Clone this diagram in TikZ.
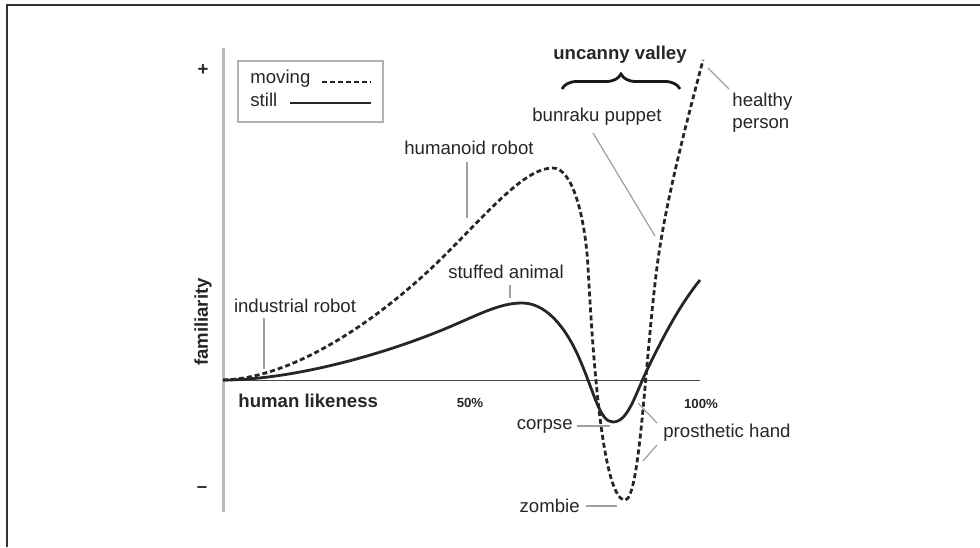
\documentclass[tikz,border=0pt]{standalone}
\usepackage{fontspec}
\setmainfont{Liberation Sans}
\usepackage{tikz}
\usetikzlibrary{decorations.pathreplacing}

\tikzset{
  lbl/.style={font=\fontsize{9.3}{11}\selectfont, inner sep=0pt, text=black!85},
  bold/.style={lbl, font=\fontsize{9.3}{11}\selectfont\bfseries},
  pct/.style={inner sep=0pt, text=black!85, font=\fontsize{6.6}{8}\selectfont\bfseries},
  leader/.style={gray!75, line width=0.6pt},
  still/.style={line width=1.4pt, black!85},
  moving/.style={line width=1.4pt, black!85, dash pattern=on 2.5pt off 1.5pt},
}

\begin{document}
\begin{tikzpicture}[x=0.5pt, y=-0.5pt]
        \useasboundingbox (0,0) rectangle (980,547);

        % frame
        \draw[black!80, line width=1pt] (7,547) -- (7,5) -- (980,5);

        % axes
        \draw[gray!55, line width=1.5pt] (223,48) -- (223,512);
        \draw[black!70, line width=0.5pt] (223,380) -- (700,380);
        \node[bold] (plus) at (203,70) {+};
        \node[bold] (minus) at (202,490) {--};
        \node[bold, rotate=90] (familiarity) at (203,322) {familiarity};
        \node[bold, anchor=west] (likeness) at (238,401) {human likeness};
        \node[pct] (half) at (470,403) {50\%};
        \node[pct] (full) at (701,404) {100\%};

        % legend
        \draw[gray!60, line width=1pt] (238,61) rectangle (383,122);
        \node[lbl, anchor=west] (movinglbl) at (250,79) {moving};
        \node[lbl, anchor=west] (stilllbl) at (250,100) {still};
        \draw[moving] (322,82) -- (371,82);
        \draw[still] (290,103) -- (371,103);

        % still
        \draw[still] (223,380) .. controls (290,380) and (380,356) .. (447,328)
                .. controls (480,314) and (500,303) .. (522,303)
                .. controls (545,303) and (565,325) .. (580,360)
                .. controls (595,395) and (600,422) .. (613,422)
                .. controls (628,422) and (635,395) .. (647,370)
                .. controls (665,333) and (680,305) .. (700,280);

        % moving
        \draw[moving] (223,380) .. controls (300,378) and (390,310) .. (445,255)
                .. controls (490,210) and (525,168) .. (553,168)
                .. controls (572,168) and (585,215) .. (588,267)
                .. controls (591,319) and (600,500) .. (625,500)
                .. controls (640,500) and (645,360) .. (657,267)
                .. controls (666,197) and (690,110) .. (703,60);

        % uncanny valley
        \node[bold] (valley) at (620,55) {uncanny valley};
        \draw[black!90, line width=1.4pt, decorate, decoration={brace, amplitude=7.5pt}] (562,89) -- (680,89);

        % labels
        \node[lbl] (bunraku) at (597,117) {bunraku puppet};
        \coordinate (bunrakupt) at (655,236);
        \draw[leader] (593,133) -- (bunrakupt);

        \node[lbl, anchor=west, align=left] (healthy) at (732,113) {healthy\\person};
        \coordinate (healthypt) at (708,68);
        \draw[leader] (729,89) -- (healthypt);

        \node[lbl] (humanoid) at (469,148) {humanoid robot};
        \coordinate (humanoidpt) at (467,218);
        \draw[leader] (467,162) -- (humanoidpt);

        \node[lbl] (stuffed) at (506,272) {stuffed animal};
        \coordinate (stuffedpt) at (510,298);
        \draw[leader] (510,285) -- (stuffedpt);

        \node[lbl] (industrial) at (295,306) {industrial robot};
        \coordinate (industrialpt) at (264,369);
        \draw[leader] (264,318) -- (industrialpt);

        \node[lbl, anchor=east] (corpse) at (573,426) {corpse};
        \coordinate (corpsept) at (610,426);
        \draw[leader] (corpse.east) ++(4,0) -- (corpsept);

        \node[lbl, anchor=west] (prosthetic) at (663,433) {prosthetic hand};
        \coordinate (prostheticpta) at (638,403);
        \coordinate (prostheticptb) at (643,461);
        \draw[leader] (657,423) -- (prostheticpta);
        \draw[leader] (657,445) -- (prostheticptb);

        \node[lbl, anchor=east] (zombie) at (580,506) {zombie};
        \coordinate (zombiept) at (617,506);
        \draw[leader] (zombie.east) ++(6,0) -- (zombiept);
\end{tikzpicture}
\end{document}
